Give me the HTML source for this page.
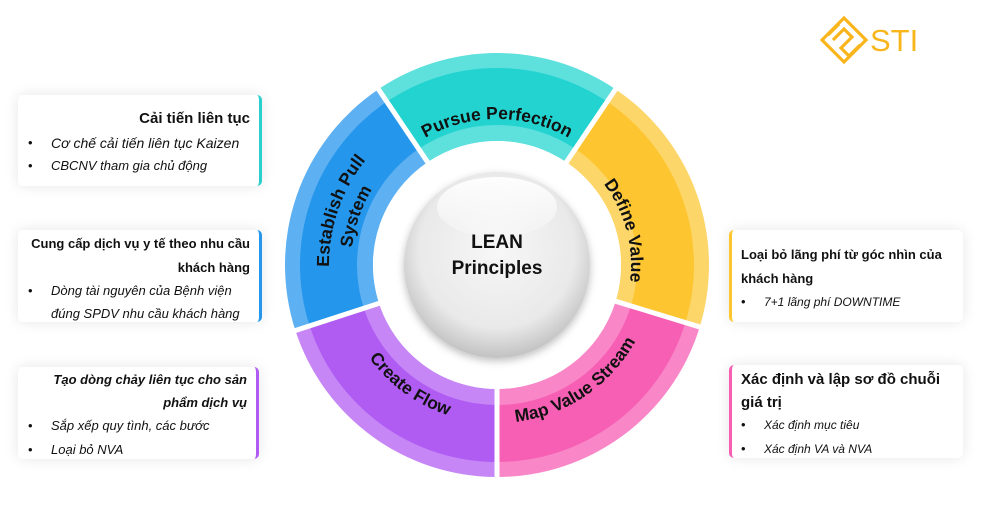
<!DOCTYPE html>
<html><head><meta charset="utf-8"><style>
body{margin:0;width:991px;height:518px;background:#fff;overflow:hidden;position:relative;font-family:"Liberation Sans","DejaVu Sans",sans-serif;color:#111}
.box{position:absolute;background:#fff;border-radius:5px;box-shadow:0 0 14px rgba(0,0,0,0.10)}
.l{position:absolute;white-space:nowrap;font-size:13px;line-height:16px}
.b{font-weight:bold}.i{font-style:italic}
.r{text-align:right}
</style></head><body>
<svg id="w" width="991" height="518" style="position:absolute;left:0;top:0">
<defs>
<radialGradient id="sg" cx="0.5" cy="0.42" r="0.6">
<stop offset="0" stop-color="#f7f7f7"/><stop offset="0.7" stop-color="#e9e9e9"/><stop offset="1" stop-color="#bdbdbd"/>
</radialGradient>
<linearGradient id="hl" x1="0" y1="0" x2="0" y2="1"><stop offset="0" stop-color="#fff" stop-opacity="0.95"/><stop offset="1" stop-color="#fff" stop-opacity="0.2"/></linearGradient>
<filter id="sh" x="-30%" y="-30%" width="160%" height="160%"><feDropShadow dx="0" dy="3" stdDeviation="4" flood-opacity="0.25"/></filter>
</defs>
<g id="g"></g>
</svg>
<!-- logo -->
<svg width="50" height="52" style="position:absolute;left:820px;top:16px" viewBox="0 0 50 52">
<g fill="none" stroke="#f8b51c" stroke-width="3.2">
<polygon points="24,2 46,24 24,46 2,24"/>
<polyline points="13,24 24,13 32,21 21,32 29,40"/>
<polyline points="8,19 19,8"/>
<polyline points="29,40 40,29"/>
</g></svg>
<div class="l" style="left:870px;top:24px;font-size:31px;line-height:34px;color:#f8b51c">STI</div>

<div class="box" style="left:18px;top:95px;width:241px;height:91px;border-right:3px solid #28cfcc"></div>
<div class="l b r" style="right:741px;top:111px;font-size:15px">Cải tiến liên tục</div>
<div class="l" style="left:28px;top:135px">•</div><div class="l i" style="left:51px;top:135px;font-size:14px">Cơ chế cải tiến liên tục Kaizen</div>
<div class="l" style="left:28px;top:158px">•</div><div class="l i" style="left:51px;top:158px">CBCNV tham gia chủ động</div>

<div class="box" style="left:18px;top:230px;width:241px;height:92px;border-right:3px solid #2496ec"></div>
<div class="l b r" style="right:741px;top:236px">Cung cấp dịch vụ y tế theo nhu cầu</div>
<div class="l b r" style="right:741px;top:260px">khách hàng</div>
<div class="l" style="left:28px;top:283px">•</div><div class="l i" style="left:51px;top:283px">Dòng tài nguyên của Bệnh viện</div>
<div class="l i" style="left:51px;top:306px">đúng SPDV nhu cầu khách hàng</div>

<div class="box" style="left:18px;top:367px;width:238px;height:92px;border-right:3px solid #b05cf3"></div>
<div class="l b i r" style="right:744px;top:372px">Tạo dòng chảy liên tục cho sản</div>
<div class="l b i r" style="right:744px;top:395px">phẩm dịch vụ</div>
<div class="l" style="left:28px;top:418px">•</div><div class="l i" style="left:51px;top:418px">Sắp xếp quy tình, các bước</div>
<div class="l" style="left:28px;top:442px">•</div><div class="l i" style="left:51px;top:442px">Loại bỏ NVA</div>

<div class="box" style="left:729px;top:230px;width:231px;height:92px;border-left:3px solid #fdc631"></div>
<div class="l b" style="left:741px;top:247px">Loại bỏ lãng phí từ góc nhìn của</div>
<div class="l b" style="left:741px;top:271px">khách hàng</div>
<div class="l" style="left:741px;top:294px">•</div><div class="l i" style="left:764px;top:294px;font-size:12px">7+1 lãng phí DOWNTIME</div>

<div class="box" style="left:729px;top:365px;width:231px;height:93px;border-left:3px solid #f75fb4"></div>
<div class="l b" style="left:741px;top:371px;font-size:15px;line-height:18px">Xác định và lập sơ đồ chuỗi</div>
<div class="l b" style="left:741px;top:394px;font-size:15px;line-height:18px">giá trị</div>
<div class="l" style="left:741px;top:417px">•</div><div class="l i" style="left:764px;top:417px;font-size:12px">Xác định mục tiêu</div>
<div class="l" style="left:741px;top:441px">•</div><div class="l i" style="left:764px;top:441px;font-size:12px">Xác định VA và NVA</div>

<script>
var cx=497,cy=265,g=document.getElementById('g'),h='';
function p(a,r){a=a*Math.PI/180;return (cx+r*Math.sin(a)).toFixed(2)+','+(cy-r*Math.cos(a)).toFixed(2);}
function sec(r1,r2,a1,a2,c){var lg=(a2-a1)>180?1:0;h+='<path fill="'+c+'" d="M'+p(a1,r2)+' A'+r2+' '+r2+' 0 '+lg+' 1 '+p(a2,r2)+' L'+p(a2,r1)+' A'+r1+' '+r1+' 0 '+lg+' 0 '+p(a1,r1)+'Z"/>';}
var S=[[-34,34,'#5ee0dd','#22d3d0'],[34,107,'#fdd66a','#fdc631'],[107,180,'#f987c8','#f75fb4'],[180,252,'#c686f6','#b05cf3'],[252,326,'#5db0f1','#2496ec']];
S.forEach(function(s){sec(124,212,s[0],s[1],s[2]);sec(140,197,s[0],s[1],s[3]);});
[-34,34,107,180,252].forEach(function(a){h+='<line x1="'+cx+'" y1="'+cy+'" x2="'+p(a,220).split(',')[0]+'" y2="'+p(a,220).split(',')[1]+'" stroke="#fff" stroke-width="5"/>';});
h+='<circle cx="'+cx+'" cy="'+cy+'" r="124" fill="#fff"/>';
h+='<circle cx="'+cx+'" cy="'+cy+'" r="93" fill="url(#sg)" filter="url(#sh)"/>';
h+='<ellipse cx="'+cx+'" cy="'+(cy-58)+'" rx="60" ry="30" fill="url(#hl)"/>';
var T=[['Pursue Perfection',146,-55,55,1],['Define Value',134,25,125,1],['Map Value Stream',158,206,86,0],['Create Flow',158,276,156,0],['Establish Pull',168,234,344,1],['System',146,234,344,1]];
T.forEach(function(t,i){var lg=Math.abs(t[3]-t[2])>180?1:0;h+='<path id="t'+i+'" fill="none" d="M'+p(t[2],t[1])+' A'+t[1]+' '+t[1]+' 0 '+lg+' '+t[4]+' '+p(t[3],t[1])+'"/><text font-family="Liberation Sans,sans-serif" font-weight="bold" font-size="17.5" fill="#111"><textPath href="#t'+i+'" startOffset="50%" text-anchor="middle">'+t[0]+'</textPath></text>';});
h+='<text x="'+cx+'" y="248" text-anchor="middle" font-family="Liberation Sans,sans-serif" font-weight="bold" font-size="19" fill="#111">LEAN</text>';
h+='<text x="'+cx+'" y="274" text-anchor="middle" font-family="Liberation Sans,sans-serif" font-weight="bold" font-size="19" fill="#111">Principles</text>';
g.innerHTML=h;
</script>
</body></html>
